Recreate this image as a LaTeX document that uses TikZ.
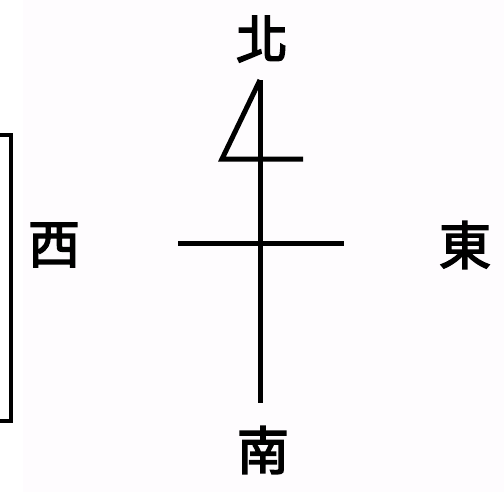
\documentclass[tikz,border=0pt]{standalone}
\usepackage{fontspec}
\newfontfamily\cjk[FakeBold=3]{Noto Sans CJK TC}
\usepackage{tikz}
\usetikzlibrary{positioning}

\tikzset{
    dir/.style = {font=\cjk\fontsize{74}{74}\selectfont, inner sep=0pt},
    stroke/.style = {line width=2.5mm, line cap=butt},
    frame/.style = {line width=1.8mm}
}

\begin{document}
\begin{tikzpicture} [x=0.5mm, y=-0.5mm]

    \useasboundingbox (0,0) rectangle (504,492);
    \fill [white!99!violet] (23,0) rectangle (504,492);

    % Directions
    \node (north) [dir] at (262,39) {北};
    \node (south) [dir] at (263,450) {南};
    \node (west)  [dir] at (54,245)  {西};
    \node (east)  [dir] at (465,245) {東};

    % Key points
    \coordinate (top)    at (260,80);
    \coordinate (bottom) at (260,403);
    \coordinate (flagl)  at (222,159);
    \coordinate (flagr)  at (303,159);
    \coordinate (left)   at (178,243);
    \coordinate (right)  at (344,243);

    % Needle and cross
    \draw [stroke] (top) -- (bottom);
    \draw [stroke] (left) -- (right);
    \draw [stroke, line join=miter] (top) -- (flagl) -- (flagr);

    % Frame on the left
    \draw [frame] (0,135) -- (11,135) -- (11,421) -- (0,421);
\end{tikzpicture}
\end{document}
